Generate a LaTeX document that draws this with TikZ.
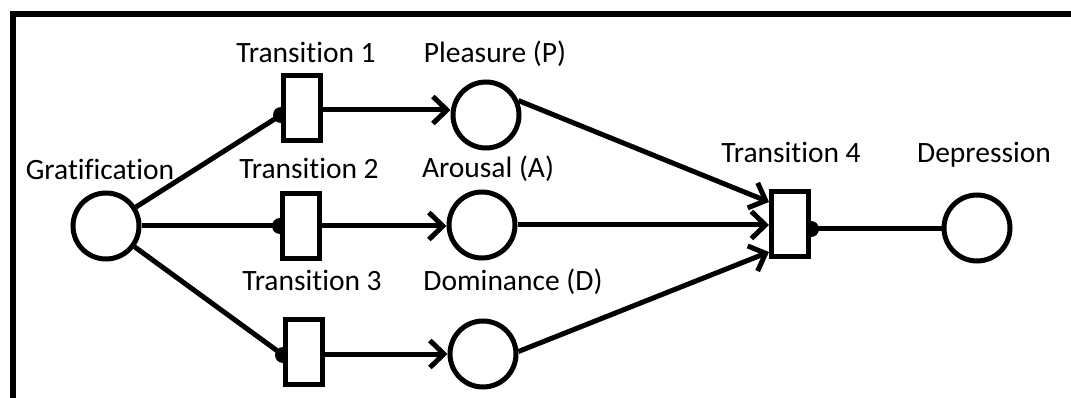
\documentclass[tikz,border=0pt]{standalone}
\usepackage{fontspec}
\setmainfont{Carlito}[Ligatures=NoCommon]
\usetikzlibrary{arrows.meta,calc}
\pgfdeclarelayer{background}
\pgfsetlayers{background,main}
\begin{document}
\begin{tikzpicture}[x=1pt,y=-1pt,
  pnode/.style={circle,draw,line width=5pt,fill=white,minimum size=66pt,inner sep=0pt},
  tnode/.style={rectangle,draw,line width=5pt,fill=white,minimum width=37pt,minimum height=65pt,inner sep=0pt},
  caption/.style={anchor=base,inner sep=0pt,font=\fontsize{29.5}{35}\selectfont},
  flow/.style={line width=5pt},
  flowto/.style={flow,-{Straight Barb[length=14pt,width=27pt]}},
  dot/.style={fill=black}
]
\useasboundingbox (0,0) rectangle (1071,398);

% frame along the top and left edges
\draw[line width=6pt,line join=miter] (12.5,402) -- (12.5,14.5) -- (1075,14.5);

% places and transitions
\node[pnode] (G)   at (106,226) {};
\node[tnode] (T1)  at (302,108) {};
\node[tnode] (T2)  at (301,226) {};
\node[tnode] (T3)  at (304,352) {};
\node[pnode] (P)   at (486,115) {};
\node[pnode] (A)   at (482,225) {};
\node[pnode] (D)   at (483,354) {};
\node[tnode] (T4)  at (790,224) {};
\node[pnode] (Dep) at (977,228) {};

% captions
\node[caption] (lG)   at (100,180) {Gratification};
\node[caption] (lT1)  at (306,63)  {Transition 1};
\node[caption] (lP)   at (495,63)  {Pleasure (P)};
\node[caption] (lT2)  at (309,179) {Transition 2};
\node[caption] (lA)   at (488,178) {Arousal (A)};
\node[caption] (lT3)  at (312,290) {Transition 3};
\node[caption] (lD)   at (513,290) {Dominance (D)};
\node[caption] (lT4)  at (791,163) {Transition 4};
\node[caption] (lDep) at (984,163) {Depression};

% attachment points on the transitions
\coordinate (t1in)  at ($(T1.west)+(0,7)$);
\coordinate (t2in)  at (T2.west);
\coordinate (t3in)  at ($(T3.west)+(0,3)$);
\coordinate (t1out) at ($(T1.east)+(0,2)$);
\coordinate (t2out) at (T2.east);
\coordinate (t3out) at ($(T3.east)+(0,2)$);
\coordinate (t4inP) at ($(T4.west)+(0,-22)$);
\coordinate (t4inD) at ($(T4.west)+(0,28)$);
\coordinate (t4out) at ($(T4.east)+(0,5)$);

\begin{pgfonlayer}{background}
  % arcs from Gratification
  \draw[flow] (G) -- (t1in);
  \draw[flow] (G) -- (t2in);
  \draw[flow] (G) -- (t3in);
  \fill[dot] (t1in) circle (8);
  \fill[dot] (t2in) circle (8);
  \fill[dot] (t3in) circle (8);
  % transitions to the PAD places
  \draw[flowto] (t1out) -- (t1out -| P.west);
  \draw[flowto] (t2out) -- (t2out -| A.west);
  \draw[flowto] (t3out) -- (t3out -| D.west);
  % PAD places into Transition 4
  \draw[flowto] (P.24) -- (t4inP);
  \draw[flowto] (A.east) -- (A.east -| T4.west);
  \draw[flowto] (D.4) -- (t4inD);
  % Transition 4 to Depression
  \draw[flow] (t4out) -- (t4out -| Dep.west);
  \fill[dot] (t4out) circle (8);
\end{pgfonlayer}
\end{tikzpicture}
\end{document}
